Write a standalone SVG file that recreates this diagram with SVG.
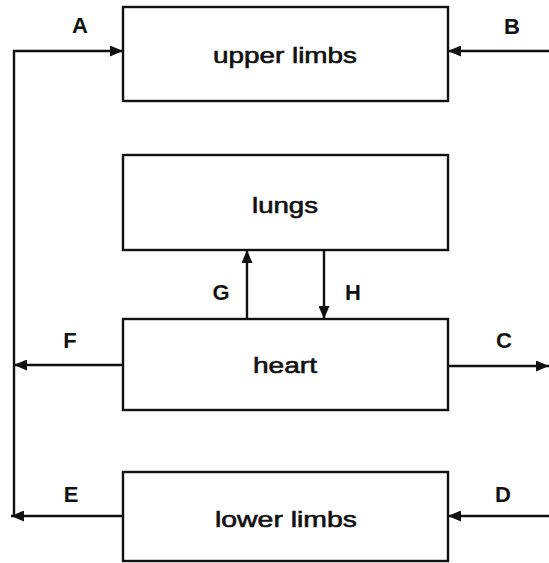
<svg xmlns="http://www.w3.org/2000/svg" width="549" height="563" viewBox="0 0 549 563">
<style>
.box{fill:#fff;stroke:#111;stroke-width:2.4}
.lbl{font-family:"Liberation Sans",Arial,sans-serif;font-size:22px;fill:#111;stroke:#111;stroke-width:0.6;text-anchor:middle}
.let{font-family:"Liberation Sans",Arial,sans-serif;font-size:22px;font-weight:bold;fill:#111;text-anchor:middle}
.con{fill:none;stroke:#111;stroke-width:2.4}
</style>
<defs>
<marker id="ah" markerUnits="userSpaceOnUse" markerWidth="13" markerHeight="11" refX="13" refY="5.5" orient="auto">
<path d="M0,0 L13,5.5 L0,11 z" fill="#111"/>
</marker>
</defs>
<rect width="549" height="563" fill="#fff"/>
<g id="upper-limbs">
<rect class="box" x="123" y="7" width="325" height="94"/>
<text class="lbl" x="285" y="63" textLength="144" lengthAdjust="spacingAndGlyphs">upper limbs</text>
</g>
<g id="lungs">
<rect class="box" x="123" y="155" width="325" height="95"/>
<text class="lbl" x="285" y="213" textLength="66" lengthAdjust="spacingAndGlyphs">lungs</text>
</g>
<g id="heart">
<rect class="box" x="123" y="319" width="325" height="91"/>
<text class="lbl" x="285" y="373" textLength="64" lengthAdjust="spacingAndGlyphs">heart</text>
</g>
<g id="lower-limbs">
<rect class="box" x="123" y="472" width="325" height="89"/>
<text class="lbl" x="286" y="527" textLength="142" lengthAdjust="spacingAndGlyphs">lower limbs</text>
</g>
<g id="connectors">
<path class="con" d="M14,516 L14,51 L123,51" marker-end="url(#ah)"/>
<path class="con" d="M549,51 L448,51" marker-end="url(#ah)"/>
<path class="con" d="M247,319 L247,250" marker-end="url(#ah)"/>
<path class="con" d="M324,250 L324,319" marker-end="url(#ah)"/>
<path class="con" d="M123,365 L14,365" marker-end="url(#ah)"/>
<path class="con" d="M448,366 L549,366" marker-end="url(#ah)"/>
<path class="con" d="M123,516 L11,516" marker-end="url(#ah)"/>
<path class="con" d="M549,516 L448,516" marker-end="url(#ah)"/>
</g>
<g id="labels">
<text class="let" x="80" y="33">A</text>
<text class="let" x="512" y="34">B</text>
<text class="let" x="504" y="348">C</text>
<text class="let" x="503" y="502">D</text>
<text class="let" x="71" y="502">E</text>
<text class="let" x="70" y="348">F</text>
<text class="let" x="221" y="300">G</text>
<text class="let" x="353" y="300">H</text>
</g>
</svg>
